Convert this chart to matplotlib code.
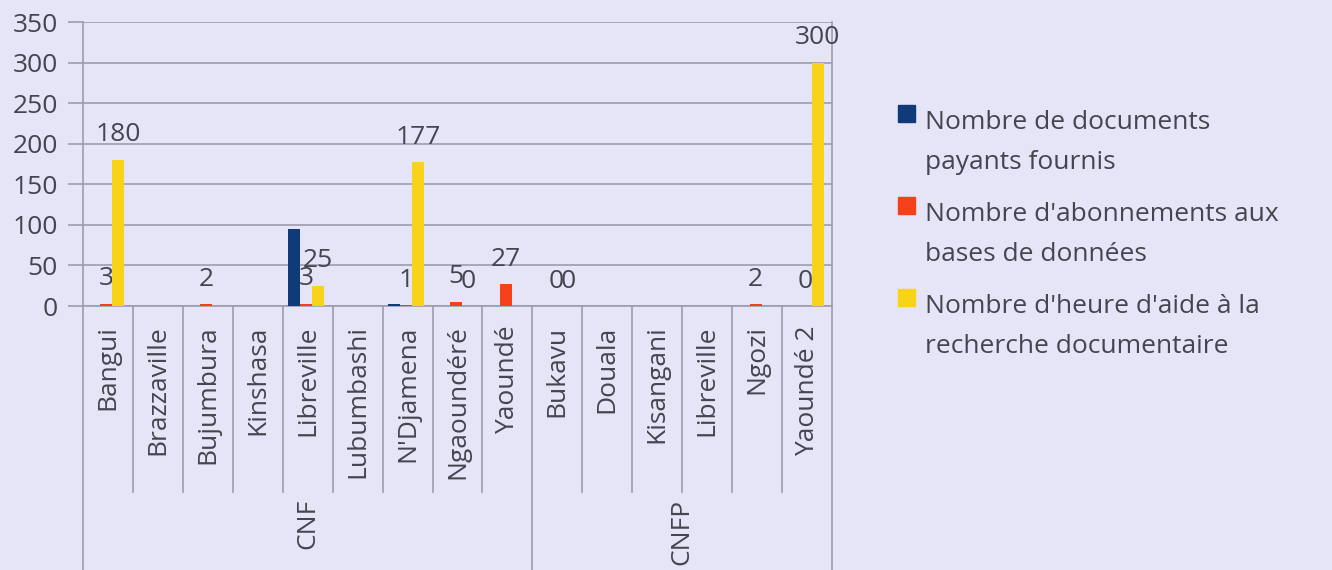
import numpy as np
import matplotlib
matplotlib.use('Agg')
import matplotlib.pyplot as plt
import matplotlib.transforms as mtransforms
from matplotlib.patches import Rectangle

plt.rcParams['font.family'] = ['Open Sans', 'DejaVu Sans']

# categories (two groups)
cities = ['Bangui', 'Brazzaville', 'Bujumbura', 'Kinshasa', 'Libreville',
          'Lubumbashi', "N'Djamena", 'Ngaoundéré', 'Yaoundé',
          'Bukavu', 'Douala', 'Kisangani', 'Libreville', 'Ngozi', 'Yaoundé 2']
groups = ['CNF', 'CNFP']
group_sizes = [9, 6]

nan = np.nan
docs_payants = [nan, nan, nan, nan, 95, nan, 3, nan, nan,
                nan, nan, nan, nan, nan, nan]
abonnements = [3, nan, 2, nan, 3, nan, 1, 5, 27,
               0, nan, nan, nan, 2, 0]
heures_aide = [180, nan, nan, nan, 25, nan, 177, 0, nan,
               0, nan, nan, nan, nan, 300]

series_names = ['Nombre de documents\npayants fournis',
                "Nombre d'abonnements aux\nbases de données",
                "Nombre d'heure d'aide à la\nrecherche documentaire"]
colors = ['#0f3b78', '#f5401c', '#f8d31a']
show_labels = [False, True, True]

bg = '#e5e5f7'
grid_c = '#9c9cae'
text_c = '#45454f'
fs = 19

fig = plt.figure(figsize=(13.32, 5.70), dpi=100, facecolor=bg)
ax = fig.add_axes([83 / 1332, 1 - 306 / 570, 749 / 1332, 284 / 570])
ax.set_facecolor(bg)

x = np.arange(len(cities))
w = 0.24
offsets = [-w - 0.03, -0.03, w - 0.03]
for vals, c, off, lab in zip([docs_payants, abonnements, heures_aide], colors, offsets, show_labels):
    bars = ax.bar(x + off, vals, width=w, color=c, zorder=3)
    if lab:
        labels = ['' if np.isnan(v) else f'{v:g}' for v in vals]
        ax.bar_label(bars, labels=labels, padding=9, fontsize=fs, color=text_c)

ax.set_xlim(-0.5, len(cities) - 0.5)
ax.set_ylim(0, 350)
ax.set_yticks(range(0, 351, 50))
ax.yaxis.grid(True, color=grid_c, linewidth=1.2, zorder=0)
ax.tick_params(axis='y', length=11, width=1.2, color=grid_c, labelsize=fs,
               labelcolor=text_c, pad=7)
ax.set_xticks(x)
ax.set_xticklabels(cities, rotation=90, fontsize=fs, color=text_c)
ax.tick_params(axis='x', length=0, pad=14)

ax.spines['top'].set_visible(False)
for s in ['left', 'right', 'bottom']:
    ax.spines[s].set_color(grid_c)
    ax.spines[s].set_linewidth(1.2)

# separators under the axis
trans = mtransforms.blended_transform_factory(ax.transData, ax.transAxes)
bounds = np.cumsum([0] + group_sizes) - 0.5
for b in np.arange(-0.5, len(cities)):
    bottom = -0.93 if b in bounds else -0.655
    ax.plot([b, b], [0, bottom], color=grid_c, linewidth=1.2, transform=trans,
            clip_on=False)

start = 0
for g, n in zip(groups, group_sizes):
    ax.text(start + (n - 1) / 2, -0.68, g, rotation=90, ha='center', va='top',
            fontsize=fs, color=text_c, transform=trans)
    start += n

# legend
for i, (name, c) in enumerate(zip(series_names, colors)):
    top = 105 + 92 * i
    fig.patches.append(Rectangle((898 / 1332, 1 - (top + 17) / 570), 17 / 1332, 17 / 570,
                                 transform=fig.transFigure, color=c))
    fig.text(925 / 1332, 1 - (top + 5) / 570, name, fontsize=fs, color=text_c,
             va='top', ha='left', linespacing=1.8)

fig.savefig('out.png', dpi=100, facecolor=bg)
